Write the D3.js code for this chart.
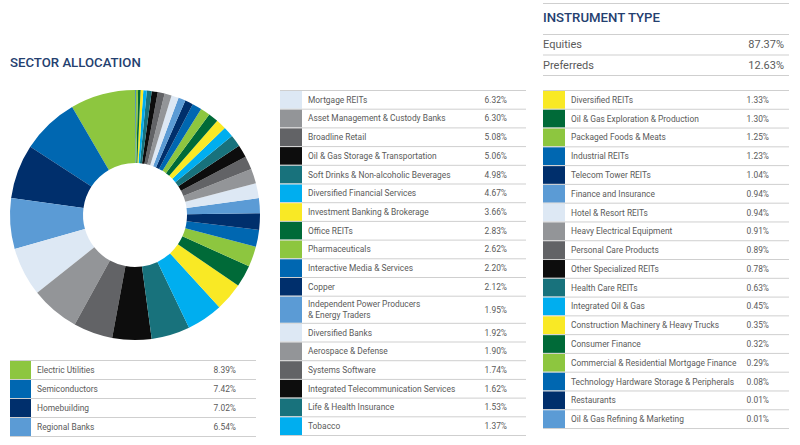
<!DOCTYPE html>
<html><head><meta charset="utf-8">
<script src="https://cdn.jsdelivr.net/npm/d3@7"></script>
<style>body{margin:0;background:#fff}svg{display:block}</style>
</head><body>
<svg id="c" width="800" height="445"></svg>
<script>
// ---- data ----
const sectors = ["Electric Utilities","Semiconductors","Homebuilding","Regional Banks",
"Mortgage REITs","Asset Management & Custody Banks","Broadline Retail","Oil & Gas Storage & Transportation",
"Soft Drinks & Non-alcoholic Beverages","Diversified Financial Services","Investment Banking & Brokerage","Office REITs",
"Pharmaceuticals","Interactive Media & Services","Copper","Independent Power Producers\n& Energy Traders",
"Diversified Banks","Aerospace & Defense","Systems Software","Integrated Telecommunication Services",
"Life & Health Insurance","Tobacco","Diversified REITs","Oil & Gas Exploration & Production",
"Packaged Foods & Meats","Industrial REITs","Telecom Tower REITs","Finance and Insurance",
"Hotel & Resort REITs","Heavy Electrical Equipment","Personal Care Products","Other Specialized REITs",
"Health Care REITs","Integrated Oil & Gas","Construction Machinery & Heavy Trucks","Consumer Finance",
"Commercial & Residential Mortgage Finance","Technology Hardware Storage & Peripherals","Restaurants","Oil & Gas Refining & Marketing"];
const weights = [8.39,7.42,7.02,6.54,
6.32,6.30,5.08,5.06,4.98,4.67,3.66,2.83,2.62,
2.20,2.12,1.95,1.92,1.90,1.74,1.62,1.53,1.37,
1.33,1.30,1.25,1.23,1.04,0.94,0.94,0.91,0.89,
0.78,0.63,0.45,0.35,0.32,0.29,0.08,0.01,0.01];
const instrumentTypes = ["Equities","Preferreds"];
const instrumentValues = [87.37,12.63];

// ---- style ----
const palette = ["#8dc63f","#0067b1","#002f6c","#5b9bd5","#dde8f4","#939598","#626366","#0d0d0d","#18727c","#00aeef","#f9e925","#006a38"];
const titleColor = "#24406f", textColor = "#5a5a5a", ruleColor = "#cfcfcf";
const font = "Roboto, 'DejaVu Sans', sans-serif";

const svg = d3.select("#c");
const color = d3.scaleOrdinal().domain(d3.range(sectors.length)).range(palette);
const fmt = v => d3.format(".2f")(v) + "%";
const data = sectors.map((s,i)=>({name:s, value:weights[i], i}));

// titles
svg.append("text").attr("x",10).attr("y",67).text("SECTOR ALLOCATION")
  .attr("font-family",font).attr("font-size",13.2).attr("font-weight",500).attr("fill",titleColor);

// donut
const pie = d3.pie().value(d=>d.value).sort(null).startAngle(0).endAngle(-2*Math.PI);
const arc = d3.arc().innerRadius(52).outerRadius(125);
svg.append("g").attr("transform","translate(135,215)")
  .selectAll("path").data(pie(data)).join("path")
  .attr("d",arc).attr("fill",d=>color(d.data.i));

// tables
function table(rows, cfg){
  const g = svg.append("g");
  let y = cfg.top;
  g.append("line").attr("x1",cfg.x0).attr("x2",cfg.x1).attr("y1",y+0.5).attr("y2",y+0.5)
    .attr("stroke",ruleColor);
  rows.forEach(d=>{
    const lines = d.name.split("\n");
    const h = lines.length>1 ? cfg.rh*1.45 : cfg.rh;
    g.append("rect").attr("x",cfg.x0).attr("y",y+1).attr("width",cfg.sw).attr("height",h-1)
      .attr("fill",color(d.i));
    const cy = y + h/2 + 0.5;
    const t = g.append("text").attr("x",cfg.tx).attr("font-family",font).attr("font-size",cfg.fs)
      .attr("fill",textColor);
    lines.forEach((l,k)=>{
      t.append("tspan").attr("x",cfg.tx).attr("y",cy + (k-(lines.length-1)/2)*cfg.fs*1.25)
        .attr("dy","0.35em").text(l);
    });
    g.append("text").attr("x",cfg.px).attr("y",cy).attr("dy","0.35em").attr("text-anchor","end")
      .attr("font-family",font).attr("font-size",cfg.fs).attr("fill",textColor).text(fmt(d.value));
    y += h;
    g.append("line").attr("x1",cfg.x0).attr("x2",cfg.x1).attr("y1",y+0.5).attr("y2",y+0.5)
      .attr("stroke",ruleColor);
  });
}
table(data.slice(0,4), {top:360, rh:19, x0:10, x1:256, sw:21, tx:37, px:236, fs:8.4});
table(data.slice(4,22), {top:90, rh:18.7, x0:280, x1:526, sw:22, tx:308, px:507, fs:8.4});
table(data.slice(22), {top:90, rh:18.78, x0:543, x1:789, sw:22, tx:571, px:769, fs:8.4});

// instrument type
const ig = svg.append("g");
ig.append("line").attr("x1",543).attr("x2",789).attr("y1",3.5).attr("y2",3.5).attr("stroke",ruleColor);
ig.append("text").attr("x",543).attr("y",22).text("INSTRUMENT TYPE")
  .attr("font-family",font).attr("font-size",13.2).attr("font-weight",500).attr("fill",titleColor);
let iy = 34;
ig.append("line").attr("x1",543).attr("x2",789).attr("y1",iy+0.5).attr("y2",iy+0.5).attr("stroke",ruleColor);
instrumentTypes.forEach((n,k)=>{
  const cy = iy + 10.5;
  ig.append("text").attr("x",543).attr("y",cy).attr("dy","0.35em").text(n)
    .attr("font-family",font).attr("font-size",11).attr("fill",textColor);
  ig.append("text").attr("x",784).attr("y",cy).attr("dy","0.35em").attr("text-anchor","end").text(fmt(instrumentValues[k]))
    .attr("font-family",font).attr("font-size",11).attr("fill",textColor);
  iy += 20.5;
  ig.append("line").attr("x1",543).attr("x2",789).attr("y1",iy+0.5).attr("y2",iy+0.5).attr("stroke",ruleColor);
});
</script>
</body></html>
